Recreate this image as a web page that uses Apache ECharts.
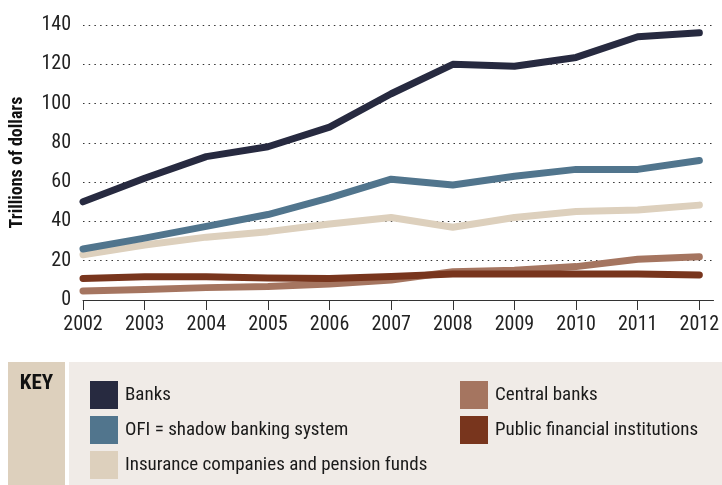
<!DOCTYPE html>
<html><head><meta charset="utf-8">
<script src="https://cdn.jsdelivr.net/npm/echarts@6/dist/echarts.min.js"></script>
<style>html,body{margin:0;padding:0;background:#fff}#c{width:722px;height:485px}</style>
</head><body><div id="c"></div>
<script>
const years = [2002,2003,2004,2005,2006,2007,2008,2009,2010,2011,2012];
const banks = [50,62,73,78,88,105,120,119,123.5,134,136];
const ofi = [26,31.5,37.5,43.5,52,61.5,58.5,63,66.5,66.5,71];
const insurance = [23,28,32,34.8,38.7,42,37,42,45,45.8,48.3];
const centralBanks = [4.6,5.4,6.3,6.9,8.2,10.2,14.4,15.2,17,20.7,22];
const publicFin = [11,11.8,11.8,11.2,11,12,13.2,13.2,13.2,13.2,12.7];
const yTicks = [0,20,40,60,80,100,120,140];
const names = ['Banks','OFI = shadow banking system','Insurance companies and pension funds','Central banks','Public financial institutions'];
const colors = ['#272a40','#51758d','#ddd0bd','#a57560','#78351d'];

const F = "'Roboto Condensed', sans-serif";
const pairs = arr => years.map((y,i)=>[y,arr[i]]);
const mk = (name, arr, color, z) => ({
  name, type:'line', data: pairs(arr), symbol:'none', z,
  color, lineStyle:{width:7, color, cap:'round', join:'round'}, itemStyle:{color}
});

const chart = echarts.init(document.getElementById('c'), null, {renderer:'canvas'});
chart.setOption({
  animation:false,
  grid:{left:78, right:3, top:25, bottom:185, containLabel:false},
  xAxis:{type:'value', min:2002, max:2012.23,
    axisLine:{show:true, lineStyle:{color:'#333', width:1}},
    axisTick:{show:true, length:10, customValues: years, lineStyle:{color:'#333'}},
    axisLabel:{customValues: years, margin:15, fontSize:20, color:'#222', fontFamily:F, formatter: v=>String(v)},
    splitLine:{show:false}},
  yAxis:{type:'value', min:0, max:140, interval:20,
    name:'Trillions of dollars', nameLocation:'middle', nameRotate:90, nameGap:57,
    nameTextStyle:{fontSize:18, fontWeight:'bold', color:'#111', fontFamily:F},
    axisLine:{show:false}, axisTick:{show:false},
    axisLabel:{customValues: yTicks, margin:12, fontSize:20, color:'#222', fontFamily:F},
    splitLine:{show:true, lineStyle:{color:'#333', width:1.2, type:[1.5,4.2]}}},
  legend:[
    {data:names.slice(0,3).map(n=>({name:n, icon:'rect'})), left:85, top:376, orient:'vertical',
     itemWidth:28, itemHeight:28, itemGap:7, selectedMode:false, z:10,
     textStyle:{fontSize:19, color:'#1a1a1a', fontFamily:F, padding:[0,0,0,2]}},
    {data:names.slice(3).map(n=>({name:n, icon:'rect'})), left:455, top:376, orient:'vertical',
     itemWidth:28, itemHeight:28, itemGap:7, selectedMode:false, z:10,
     textStyle:{fontSize:19, color:'#1a1a1a', fontFamily:F, padding:[0,0,0,2]}}
  ],
  graphic:[
    {type:'rect', z:-10, shape:{x:8,y:362,width:57,height:123}, style:{fill:'#ddd0bd'}},
    {type:'rect', z:-10, shape:{x:69,y:362,width:653,height:123}, style:{fill:'#f0ebe7'}},
    {type:'text', z:5, x:36.5, y:373, style:{text:'KEY', fill:'#111', font:"bold 21px "+F, textAlign:'center', textVerticalAlign:'top'}}
  ],
  series:[
    mk(names[2], insurance, colors[2], 2),
    mk(names[3], centralBanks, colors[3], 3),
    mk(names[1], ofi, colors[1], 4),
    mk(names[0], banks, colors[0], 5),
    mk(names[4], publicFin, colors[4], 6)
  ]
});
</script></body></html>
